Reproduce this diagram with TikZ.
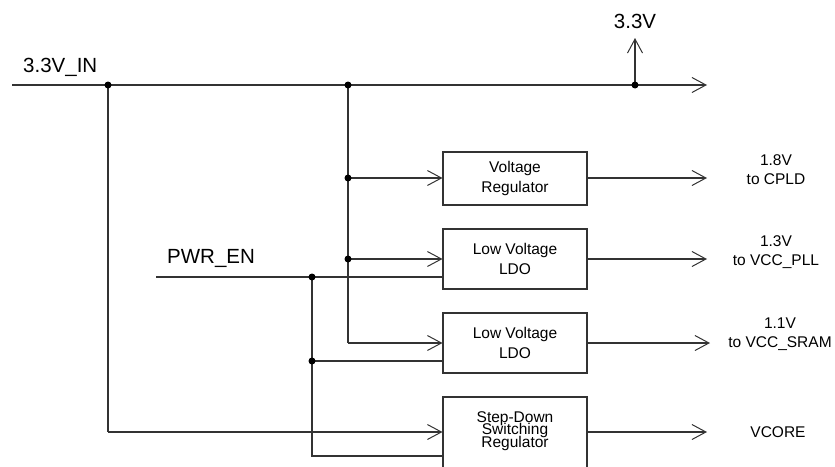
\documentclass[tikz,border=0pt]{standalone}
\usepackage{fontspec}
\setmainfont{Liberation Sans}
\usetikzlibrary{arrows.meta}
\newcommand\mytightls{\lineskiplimit=-50pt\relax}
\tikzset{
  wire/.style={line width=1.1pt, draw=black!80},
  arr/.style={wire, -{Straight Barb[length=14pt,width=15pt,line width=1pt]}},
  blk/.style={draw=black!80, line width=1.1pt, minimum width=144pt, inner sep=0pt, align=center, font=\fontsize{15.5}{19.5}\selectfont},
  dot/.style={circle, fill=black, inner sep=0pt, minimum size=7pt},
  lbl/.style={font=\fontsize{20.5}{24}\selectfont, inner sep=0pt},
  olbl/.style={font=\fontsize{15.5}{19}\selectfont, align=center, inner sep=0pt}
}
\begin{document}
\begin{tikzpicture}[x=1pt,y=-1pt]
\useasboundingbox (0,0) rectangle (835,466);
% blocks
\node[blk, minimum height=53pt] (vr) at (515,178.5) {Voltage\\Regulator};
\node[blk, minimum height=60pt] (ldo1) at (515,259) {Low Voltage\\LDO};
\node[blk, minimum height=60pt] (ldo2) at (515,343) {Low Voltage\\LDO};
\node[blk, minimum height=80pt] (sd) at (515,437) {};
\node[align=center, inner sep=0pt, font={\fontsize{15.5}{12.5}\selectfont\mytightls}] (sdt) at (515,431) {Step-Down\\Switching\\Regulator};
% labels
\node[lbl, anchor=west] (lin) at (23,67) {3.3V\_IN};
\node[lbl] (l33) at (635,21) {3.3V};
\node[lbl, anchor=west] (len) at (167,258) {PWR\_EN};
\node[olbl] (o1) at (776,169.5) {1.8V\\to CPLD};
\node[olbl] (o2) at (776,252) {1.3V\\to VCC\_PLL};
\node[olbl] (o3) at (780,334) {1.1V\\to VCC\_SRAM};
\node[olbl] (o4) at (778,432) {VCORE};
% coordinates
\coordinate (bs) at (12,85);
\coordinate (be) at (707,85);
\coordinate (j1) at (108,85);
\coordinate (j2) at (348,85);
\coordinate (j3) at (635,85);
\coordinate (up) at (635,38);
\coordinate (a1) at (348,178);
\coordinate (a2) at (348,259);
\coordinate (a3) at (348,343);
\coordinate (b4) at (108,432);
\coordinate (es) at (156,277);
\coordinate (e1) at (312,277);
\coordinate (e2) at (312,361);
\coordinate (e3) at (312,456);
\coordinate (t1) at (707,178);
\coordinate (t2) at (707,259);
\coordinate (t3) at (710,343);
\coordinate (t4) at (707,432);
% main bus
\draw[arr] (bs) -- (be);
\draw[arr] (j3) -- (up);
% branches
\draw[wire] (j2) -- (a3);
\draw[arr] (a1) -- (vr.west |- a1);
\draw[arr] (a2) -- (ldo1.west |- a2);
\draw[arr] (a3) -- (ldo2.west |- a3);
\draw[wire] (j1) -- (b4);
\draw[arr] (b4) -- (sd.west |- b4);
% enable
\draw[wire] (es) -- (ldo1.west |- es);
\draw[wire] (e1) -- (e3) -- (sd.west |- e3);
\draw[wire] (e2) -- (ldo2.west |- e2);
% outputs
\draw[arr] (vr.east |- t1) -- (t1);
\draw[arr] (ldo1.east |- t2) -- (t2);
\draw[arr] (ldo2.east |- t3) -- (t3);
\draw[arr] (sd.east |- t4) -- (t4);
% dots
\foreach \p in {j1,j2,j3,a1,a2,e1,e2} \node[dot] at (\p) {};
\end{tikzpicture}
\end{document}
